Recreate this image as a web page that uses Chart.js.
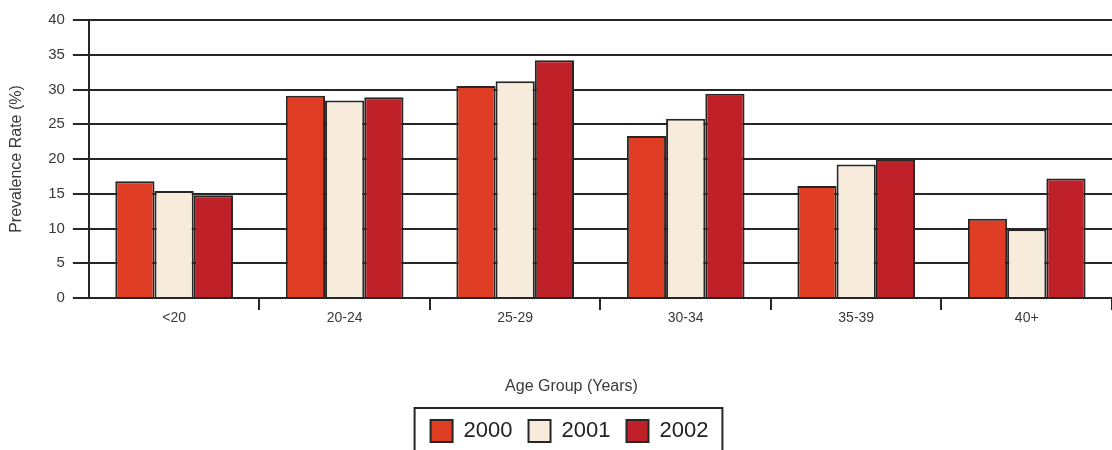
<!DOCTYPE html>
<html>
<head>
<meta charset="utf-8">
<script src="https://cdn.jsdelivr.net/npm/chart.js@4/dist/chart.umd.min.js"></script>
<style>
    html, body { margin: 0; padding: 0; background: #fff; }
    #wrap { width: 1112px; height: 450px; }
</style>
</head>
<body>
<div id="wrap"><canvas id="prevChart" width="1112" height="450"></canvas></div>
<script>
        const ageGroups = ['<20', '20-24', '25-29', '30-34', '35-39', '40+'];
        const years = ['2000', '2001', '2002'];
        const rates2000 = [16.8, 29.1, 30.5, 23.3, 16.1, 11.4];
        const rates2001 = [15.4, 28.4, 31.2, 25.8, 19.2, 9.9];
        const rates2002 = [14.8, 28.9, 34.2, 29.4, 20.0, 17.2];
        const yTicks = [0, 5, 10, 15, 20, 25, 30, 35, 40];

        const colors = ['#df3e24', '#f7ebdb', '#c02027'];
        const inkColor = '#262626';
        const textColor = '#3a3a3a';
        const fontFamily = '"Liberation Sans", Arial, sans-serif';

        // legend frame + nudge legend/title to the reference position
        const legendFrame = {
            id: 'legendFrame',
            afterLayout(chart) {
                const lg = chart.legend;
                lg.left += 10; lg.right += 10;
                lg.top += 2; lg.bottom += 2;
                const t = chart.titleBlock;
                if (t) { t.left += 12; t.right += 12; }
            },
            afterDraw(chart) {
                const boxes = chart.legend.legendHitBoxes;
                if (!boxes || !boxes.length) return;
                const left = Math.min(...boxes.map(b => b.left)) - 16;
                const right = Math.max(...boxes.map(b => b.left + b.width)) + 14;
                const top = Math.min(...boxes.map(b => b.top)) - 12;
                const ctx = chart.ctx;
                ctx.save();
                ctx.strokeStyle = inkColor;
                ctx.lineWidth = 2;
                ctx.strokeRect(left, top, right - left, chart.height + 20 - top);
                ctx.restore();
            }
        };

        const datasets = [rates2000, rates2001, rates2002].map((vals, i) => ({
            label: years[i],
            data: vals,
            backgroundColor: colors[i],
            borderColor: inkColor,
            borderWidth: 2,
            barPercentage: 1,
            categoryPercentage: 0.69
        }));

        const ctx = document.getElementById('prevChart').getContext('2d');
        new Chart(ctx, {
            type: 'bar',
            data: { labels: ageGroups, datasets: datasets },
            plugins: [legendFrame],
            options: {
                responsive: false,
                animation: false,
                devicePixelRatio: 1,
                layout: { padding: { top: 20, right: 0, left: 7, bottom: 0 } },
                plugins: {
                    legend: {
                        position: 'bottom',
                        labels: {
                            boxWidth: 22,
                            boxHeight: 22,
                            padding: 16,
                            color: '#222',
                            font: { family: fontFamily, size: 22 }
                        }
                    },
                    title: {
                        display: true,
                        position: 'bottom',
                        weight: 500,
                        text: 'Age Group (Years)',
                        color: textColor,
                        font: { family: fontFamily, size: 16, weight: 'normal' },
                        padding: { top: 50, bottom: 6 }
                    },
                    tooltip: { enabled: false }
                },
                scales: {
                    x: {
                        grid: {
                            display: true,
                            drawOnChartArea: false,
                            drawTicks: true,
                            tickLength: 12,
                            color: c => c.index === 0 ? 'rgba(0,0,0,0)' : inkColor,
                            lineWidth: 2,
                            offset: true
                        },
                        border: { display: true, color: inkColor, width: 2 },
                        ticks: {
                            color: textColor,
                            padding: 0,
                            font: { family: fontFamily, size: 14 }
                        }
                    },
                    y: {
                        min: 0,
                        max: 40,
                        afterBuildTicks(axis) {
                            axis.ticks = yTicks.map(v => ({ value: v }));
                        },
                        grid: {
                            color: inkColor,
                            lineWidth: 2,
                            tickLength: 16
                        },
                        border: { display: true, color: inkColor, width: 2 },
                        ticks: {
                            color: textColor,
                            padding: 8,
                            font: { family: fontFamily, size: 15 }
                        },
                        title: {
                            display: true,
                            text: 'Prevalence Rate (%)',
                            color: textColor,
                            font: { family: fontFamily, size: 16 },
                            padding: { top: 0, bottom: 14 }
                        }
                    }
                }
            }
        });
</script>
</body>
</html>
